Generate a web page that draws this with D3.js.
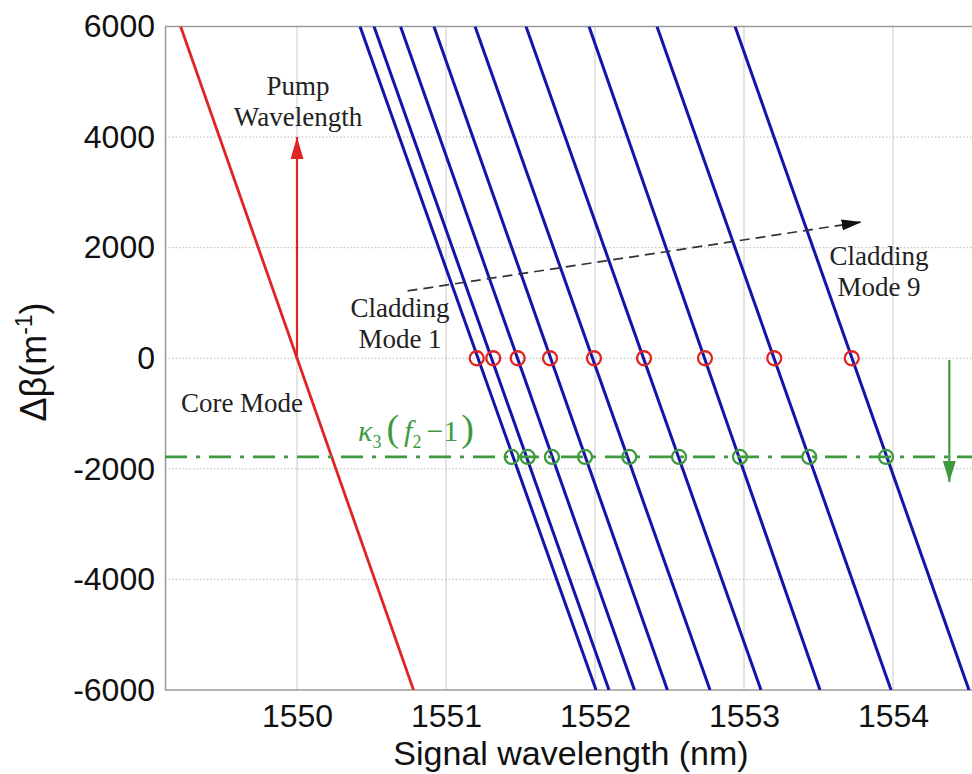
<!DOCTYPE html>
<html>
<head>
<meta charset="utf-8">
<script src="https://cdn.jsdelivr.net/npm/d3@7"></script>
<style>
  html, body { margin: 0; padding: 0; background: #fff; }
  svg { display: block; }
</style>
</head>
<body>
<svg id="chart" width="972" height="774"></svg>
<script>
// ---------------- data ----------------
const xTicks = [1550, 1551, 1552, 1553, 1554];
const yTicks = [-6000, -4000, -2000, 0, 2000, 4000, 6000];
const betaEnds = [6000, -6000];
// core mode line: wavelength at beta = 6000 and beta = -6000
const coreWl = [1549.219, 1550.782];
// cladding modes 1..9: wavelength at beta = 6000 (top) and beta = -6000 (bottom)
const cladTopWl = [1550.423, 1550.517, 1550.695, 1550.919, 1551.195, 1551.537, 1551.960, 1552.416, 1552.940];
const cladBottomWl = [1552.007, 1552.094, 1552.265, 1552.486, 1552.772, 1553.114, 1553.510, 1553.987, 1554.510];
// phase matching points at beta = 0 (red) and beta = kappa3(f2-1) (green)
const redCircleWl = [1551.206, 1551.317, 1551.481, 1551.698, 1551.993, 1552.329, 1552.738, 1553.203, 1553.723];
const greenCircleWl = [1551.441, 1551.548, 1551.711, 1551.933, 1552.230, 1552.564, 1552.973, 1553.438, 1553.953];
const kappaBeta = -1785;
const pumpWl = 1550;
const pumpArrowBeta = [0, 4000];
const modeArrowWl = [1550.742, 1553.790];
const modeArrowBeta = [1217, 2465];
const shiftArrowWl = 1554.378;
const shiftArrowBeta = [-30, -2237];

// ---------------- layout ----------------
const svg = d3.select("#chart");
const plotLeft = 165, plotRight = 972, plotTop = 26.5, plotBottom = 690;
const x = d3.scaleLinear().domain([1550, 1554]).range([297, 893]);
const y = d3.scaleLinear().domain([-6000, 6000]).range([plotBottom, plotTop]);

const RED = "#e02424", BLUE = "#1414aa", GREEN = "#3f9a3f";

const defs = svg.append("defs");
defs.append("clipPath").attr("id", "clip").append("rect")
  .attr("x", plotLeft).attr("y", plotTop)
  .attr("width", plotRight - plotLeft).attr("height", plotBottom - plotTop);

function marker(id, color, w, h) {
  defs.append("marker").attr("id", id)
    .attr("viewBox", `0 0 ${h} ${w}`).attr("refX", h).attr("refY", w / 2)
    .attr("markerWidth", h).attr("markerHeight", w)
    .attr("markerUnits", "userSpaceOnUse").attr("orient", "auto")
    .append("path").attr("d", `M0,0 L${h},${w / 2} L0,${w} Z`).attr("fill", color);
}
marker("arrRed", RED, 13, 22);
marker("arrBlack", "#111", 11, 20);
marker("arrGreen", GREEN, 13, 21);

// grid
const grid = svg.append("g");
grid.selectAll("line.h").data(yTicks.filter(d => d > -6000 && d < 6000)).join("line")
  .attr("x1", plotLeft).attr("x2", plotRight)
  .attr("y1", d => y(d)).attr("y2", d => y(d))
  .attr("stroke", "#b8b8b8").attr("stroke-width", 1).attr("stroke-dasharray", "1.5,2");
grid.selectAll("line.v").data(xTicks).join("line")
  .attr("x1", d => x(d)).attr("x2", d => x(d))
  .attr("y1", plotTop).attr("y2", plotBottom)
  .attr("stroke", "#c8c8c8").attr("stroke-width", 1);

// axes
const axisColor = "#9a9a9a";
const sans = "Liberation Sans, Arial, sans-serif";
const yAxis = d3.axisLeft(y).tickValues(yTicks).tickSize(0).tickPadding(10).tickFormat(d => String(d));
const gy = svg.append("g").attr("transform", `translate(${plotLeft},0)`).call(yAxis);
gy.select(".domain").attr("stroke", axisColor).attr("stroke-width", 1.5);
gy.selectAll("text").attr("font-family", sans).attr("font-size", 32).attr("fill", "#111");

const xAxis = d3.axisBottom(x).tickValues(xTicks).tickSize(0).tickPadding(14).tickFormat(d => String(d));
const gx = svg.append("g").attr("transform", `translate(0,${plotBottom})`).call(xAxis);
gx.select(".domain").remove();
gx.selectAll("text").attr("font-family", sans).attr("font-size", 32).attr("fill", "#111");
svg.append("line").attr("x1", plotLeft).attr("x2", plotRight).attr("y1", plotBottom).attr("y2", plotBottom)
  .attr("stroke", axisColor).attr("stroke-width", 1.5);
svg.append("line").attr("x1", plotLeft).attr("x2", plotRight).attr("y1", plotTop).attr("y2", plotTop)
  .attr("stroke", axisColor).attr("stroke-width", 1.5);

// axis titles
svg.append("text").attr("x", 571).attr("y", 765)
  .attr("text-anchor", "middle").attr("font-family", sans)
  .attr("font-size", 34).attr("fill", "#111").text("Signal wavelength (nm)");
const yt = svg.append("text").attr("transform", `translate(46,362) rotate(-90)`)
  .attr("text-anchor", "middle").attr("font-family", sans)
  .attr("font-size", 36).attr("fill", "#111");
yt.append("tspan").text("Δβ(m");
yt.append("tspan").attr("font-size", 23).attr("dy", -14).text("-1");
yt.append("tspan").attr("dy", 14).text(")");

// lines
const plot = svg.append("g").attr("clip-path", "url(#clip)");
const line = d3.line().x(d => x(d[0])).y(d => y(d[1]));

plot.append("path").datum(coreWl.map((w, i) => [w, betaEnds[i]]))
  .attr("d", line).attr("fill", "none").attr("stroke", RED).attr("stroke-width", 2.8);

plot.selectAll("path.clad").data(cladTopWl.map((w, i) => [[w, betaEnds[0]], [cladBottomWl[i], betaEnds[1]]]))
  .join("path").attr("class", "clad").attr("d", line)
  .attr("fill", "none").attr("stroke", BLUE).attr("stroke-width", 3);

// kappa dash-dot line
plot.append("line").attr("x1", plotLeft).attr("x2", plotRight)
  .attr("y1", y(kappaBeta)).attr("y2", y(kappaBeta))
  .attr("stroke", GREEN).attr("stroke-width", 2.8).attr("stroke-dasharray", "22,9,4,9");

// circles
plot.selectAll("circle.red").data(redCircleWl).join("circle")
  .attr("cx", d => x(d)).attr("cy", y(0)).attr("r", 7)
  .attr("fill", "none").attr("stroke", RED).attr("stroke-width", 2.3);
plot.selectAll("circle.green").data(greenCircleWl).join("circle")
  .attr("cx", d => x(d)).attr("cy", y(kappaBeta)).attr("r", 7)
  .attr("fill", "none").attr("stroke", GREEN).attr("stroke-width", 2.3);

// pump arrow
svg.append("line").attr("x1", x(pumpWl)).attr("x2", x(pumpWl))
  .attr("y1", y(pumpArrowBeta[0])).attr("y2", y(pumpArrowBeta[1]))
  .attr("stroke", RED).attr("stroke-width", 2.2).attr("marker-end", "url(#arrRed)");

// mode progression arrow
svg.append("line").attr("x1", x(modeArrowWl[0])).attr("x2", x(modeArrowWl[1]))
  .attr("y1", y(modeArrowBeta[0])).attr("y2", y(modeArrowBeta[1]))
  .attr("stroke", "#333").attr("stroke-width", 1.7).attr("stroke-dasharray", "10,6")
  .attr("marker-end", "url(#arrBlack)");

// shift arrow
svg.append("line").attr("x1", x(shiftArrowWl)).attr("x2", x(shiftArrowWl))
  .attr("y1", y(shiftArrowBeta[0])).attr("y2", y(shiftArrowBeta[1]))
  .attr("stroke", GREEN).attr("stroke-width", 2.2).attr("marker-end", "url(#arrGreen)");

// annotations
const serif = "Liberation Serif, Times New Roman, serif";
function label(xc, yb, lines, size) {
  const t = svg.append("text").attr("text-anchor", "middle").attr("font-family", serif)
    .attr("font-size", size).attr("fill", "#222");
  lines.forEach((s, i) => t.append("tspan").attr("x", xc).attr("y", yb + i * 31).text(s));
}
label(298, 95, ["Pump", "Wavelength"], 27);
label(400, 317, ["Cladding", "Mode 1"], 27);
label(879, 265, ["Cladding", "Mode 9"], 27);
label(242, 412, ["Core Mode"], 27);

const k = svg.append("text").attr("x", 358).attr("y", 441).attr("font-family", serif)
  .attr("font-size", 30).attr("fill", GREEN);
k.append("tspan").attr("font-style", "italic").text("κ");
k.append("tspan").attr("font-size", 18).attr("dy", 7).text("3");
k.append("tspan").attr("dy", -7).attr("font-size", 38).attr("dx", 5).text("(");
k.append("tspan").attr("font-style", "italic").attr("dx", 5).text("f");
k.append("tspan").attr("font-size", 18).attr("dy", 7).text("2");
k.append("tspan").attr("dy", -7).attr("dx", 5).text("−1");
k.append("tspan").attr("font-size", 38).attr("dx", 3).text(")");
</script>
</body>
</html>
